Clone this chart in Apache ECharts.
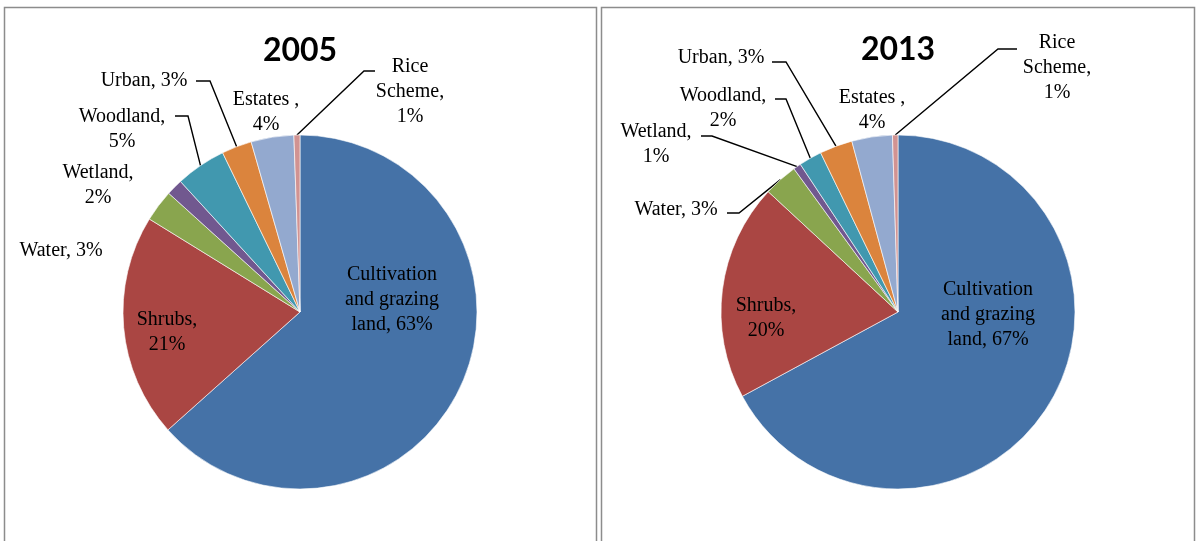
<!DOCTYPE html>
<html>
<head>
<meta charset="utf-8">
<script src="https://cdn.jsdelivr.net/npm/echarts@6/dist/echarts.min.js"></script>
<style>html,body{margin:0;padding:0;background:#fff}#c{width:1203px;height:541px}</style>
</head>
<body>
<div id="c"></div>
<script>
// ---- data ----
const categories = ['Cultivation and grazing land','Shrubs','Water','Wetland','Woodland','Urban','Estates','Rice Scheme'];
const years = ['2005','2013'];
// estimated slice shares (%)
const values2005 = [63.4, 20.4, 2.9, 1.5, 4.6, 2.75, 3.9, 0.55];
const values2013 = [67.1, 19.8, 3.1, 0.7, 2.1, 3.0, 3.7, 0.5];
// percentages printed on the labels
const labelPct2005 = [63, 21, 3, 2, 5, 3, 4, 1];
const labelPct2013 = [67, 20, 3, 1, 2, 3, 4, 1];

// ---- presentation ----
const colors = ['#4572A7','#AA4643','#89A54E','#71588F','#4198AF','#DB843D','#93A9CF','#D19392'];
const labelNames = ['Cultivation\nand grazing\nland','Shrubs','Water','Wetland','Woodland','Urban','Estates ','Rice\nScheme'];
const labelSep = [' ','\n',' ','\n','\n',' ','\n','\n'];
const centers = [[300,312],[898,312]];
const radius = 177;
const labelPos = [
  [[392,300],[167,332],[61,251],[98,185],[122,129],[144,81],[266,112],[410,92]],
  [[988,315],[766,318],[676,210],[656,144],[723,108],[721,58],[872,110],[1057,68]]
];
const leaderBends = [
  [null,null,null,null,[[188,116],[175,116]],[[210,81],[196,81]],null,[[364,71],[375,71]]],
  [null,null,[[739,213],[727,213]],[[712,136],[701,136]],[[786,99],[775,99]],[[786,62],[772,62]],null,[[998,49],[1017,49]]]
];

const chart = echarts.init(document.getElementById('c'), null, {renderer:'canvas'});

function makeSeries(k, values, pcts){
  return {
    type:'pie',
    center: centers[k],
    radius: radius,
    startAngle: 90,
    clockwise: true,
    avoidLabelOverlap: false,
    silent: true,
    animation: false,
    itemStyle: {borderColor:'#ffffff', borderWidth:0.6},
    label: {
      show: true,
      position: 'outside',
      color: '#000',
      fontFamily: 'Liberation Serif',
      fontSize: 20,
      lineHeight: 25,
      align: 'center',
      formatter: function(p){ return labelNames[p.dataIndex] + ',' + labelSep[p.dataIndex] + pcts[p.dataIndex] + '%'; }
    },
    labelLine: {show: true, length: 10, length2: 10, smooth: false, lineStyle:{color:'#000', width:1.4}},
    labelLayout: function(params){
      const i = params.dataIndex;
      const p = labelPos[k][i];
      const res = {x: p[0], y: p[1], align: 'center', verticalAlign: 'middle'};
      const b = leaderBends[k][i];
      if (b && params.labelLinePoints) {
        res.labelLinePoints = [params.labelLinePoints[0], b[0], b[1]];
      }
      return res;
    },
    data: categories.map(function(name, i){
      return {
        name: name,
        value: values[i],
        itemStyle: {color: colors[i]},
        labelLine: {show: !!leaderBends[k][i]}
      };
    })
  };
}

chart.setOption({
  animation: false,
  graphic: [
    {type:'rect', shape:{x:4.5, y:7.5, width:592, height:560}, style:{fill:'none', stroke:'#8c8c8c', lineWidth:1.5}, z:-1},
    {type:'rect', shape:{x:601.5, y:7.5, width:593, height:560}, style:{fill:'none', stroke:'#8c8c8c', lineWidth:1.5}, z:-1},
    {type:'text', x:centers[0][0], y:51, style:{text:years[0], font:'bold 32px Lato', fill:'#000', align:'center', verticalAlign:'middle'}},
    {type:'text', x:centers[1][0], y:50, style:{text:years[1], font:'bold 32px Lato', fill:'#000', align:'center', verticalAlign:'middle'}}
  ],
  series: [
    makeSeries(0, values2005, labelPct2005),
    makeSeries(1, values2013, labelPct2013)
  ]
});
</script>
</body>
</html>
